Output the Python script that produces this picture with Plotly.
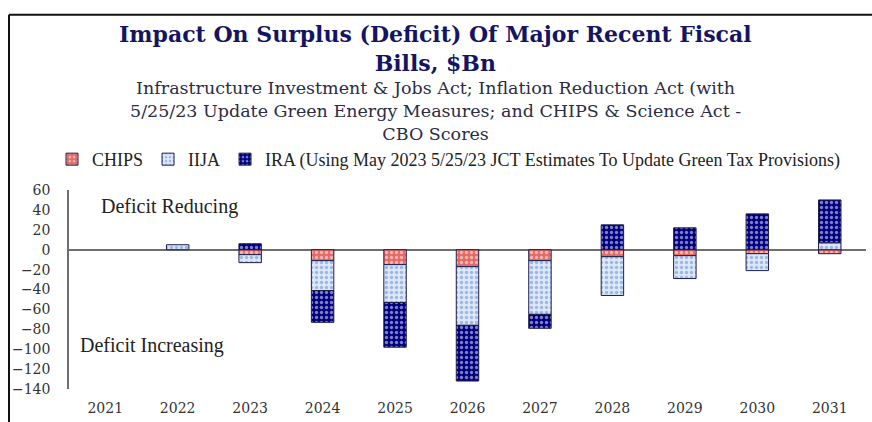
import plotly.graph_objects as go

# Fiscal years and CBO-scored budget impact by bill ($Bn; negative = adds to deficit)
years = ["2021", "2022", "2023", "2024", "2025", "2026", "2027", "2028", "2029", "2030", "2031"]
chips = [0, 0, -5, -11, -15, -17, -11, -7, -6, -4, -4]
iija = [0, 5, -8, -30, -38, -59, -54, -39, -23, -17, 7]
ira = [0, 0, 6, -32, -45, -56, -14, 25, 22, 36, 43]

y_ticks = [60, 40, 20, 0, -20, -40, -60, -80, -100, -120, -140]

series = [
    ("CHIPS", chips, "#e46a66", "#ffffff"),
    ("IIJA", iija, "#dde8f7", "#5b84d6"),
    ("IRA (Using May 2023 5/25/23 JCT Estimates To Update Green Tax Provisions)", ira, "#000080", "#ffffff"),
]

fig = go.Figure()
for name, vals, bg, fg in series:
    fig.add_trace(go.Bar(
        x=years, y=[v if v != 0 else None for v in vals], name=name,
        marker=dict(
            color=bg,
            line=dict(color="#1e1e4a", width=1),
            pattern=dict(shape=".", bgcolor=bg, fgcolor=fg, size=5, solidity=0.35),
        ),
    ))

serif = "DejaVu Serif"
body_font = "Liberation Serif"

# plot area spans x 69..866 px, y 190..392 px
def py(pixel_y):
    return (392 - pixel_y) / 202

def px(pixel_x):
    return (pixel_x - 69) / 797

fig.update_layout(
    width=872, height=422,
    margin=dict(l=69, r=6, t=190, b=30),
    barmode="relative",
    bargap=0.69,
    plot_bgcolor="white",
    paper_bgcolor="white",
    showlegend=True,
    legend=dict(
        orientation="h", x=px(52), y=py(159), xanchor="left", yanchor="middle",
        font=dict(family=body_font, size=18, color="#222222"),
        itemwidth=30, tracegroupgap=0,
        traceorder="normal",
    ),
    font=dict(family=serif, color="#333333"),
)

fig.update_xaxes(
    showline=False, showgrid=False, ticks="",
    tickfont=dict(family=serif, size=14, color="#333333"),
    ticklabelstandoff=9,
)
fig.update_yaxes(
    range=[-140, 60], tickvals=y_ticks,
    showgrid=False, zeroline=True, zerolinecolor="#6e6e6e", zerolinewidth=1.5,
    showline=True, linecolor="#6e6e6e", linewidth=1.5,
    ticks="", tickfont=dict(family=serif, size=14, color="#333333"),
    ticklabelstandoff=14,
)

# Title
fig.add_annotation(
    xref="paper", yref="paper", x=px(435), y=py(46), xanchor="center", yanchor="middle",
    text="<b>Impact On Surplus (Deficit) Of Major Recent Fiscal<br>Bills, $Bn</b>",
    showarrow=False, font=dict(family=serif, size=22, color="#141464"),
)

# Subtitle
fig.add_annotation(
    xref="paper", yref="paper", x=px(435), y=py(110), xanchor="center", yanchor="middle",
    text="Infrastructure Investment &amp; Jobs Act; Inflation Reduction Act (with<br>"
         "5/25/23 Update Green Energy Measures; and CHIPS &amp; Science Act -<br>"
         "CBO Scores",
    showarrow=False, font=dict(family=serif, size=17.5, color="#2c2c44"),
)

# Region labels
fig.add_annotation(
    xref="paper", yref="paper", x=px(99), y=py(207), xanchor="left", yanchor="middle",
    text="Deficit Reducing", showarrow=False,
    font=dict(family=body_font, size=20, color="#222222"),
)
fig.add_annotation(
    xref="paper", yref="paper", x=px(78), y=py(348), xanchor="left", yanchor="middle",
    text="Deficit Increasing", showarrow=False,
    font=dict(family=body_font, size=20, color="#222222"),
)

# Outer frame
fig.add_shape(type="line", xref="paper", yref="paper",
              x0=px(9), x1=px(9), y0=py(430), y1=py(12),
              line=dict(color="#111111", width=2))
fig.add_shape(type="line", xref="paper", yref="paper",
              x0=px(9), x1=px(880), y0=py(12), y1=py(12),
              line=dict(color="#111111", width=2))

fig.write_html("out.html")
